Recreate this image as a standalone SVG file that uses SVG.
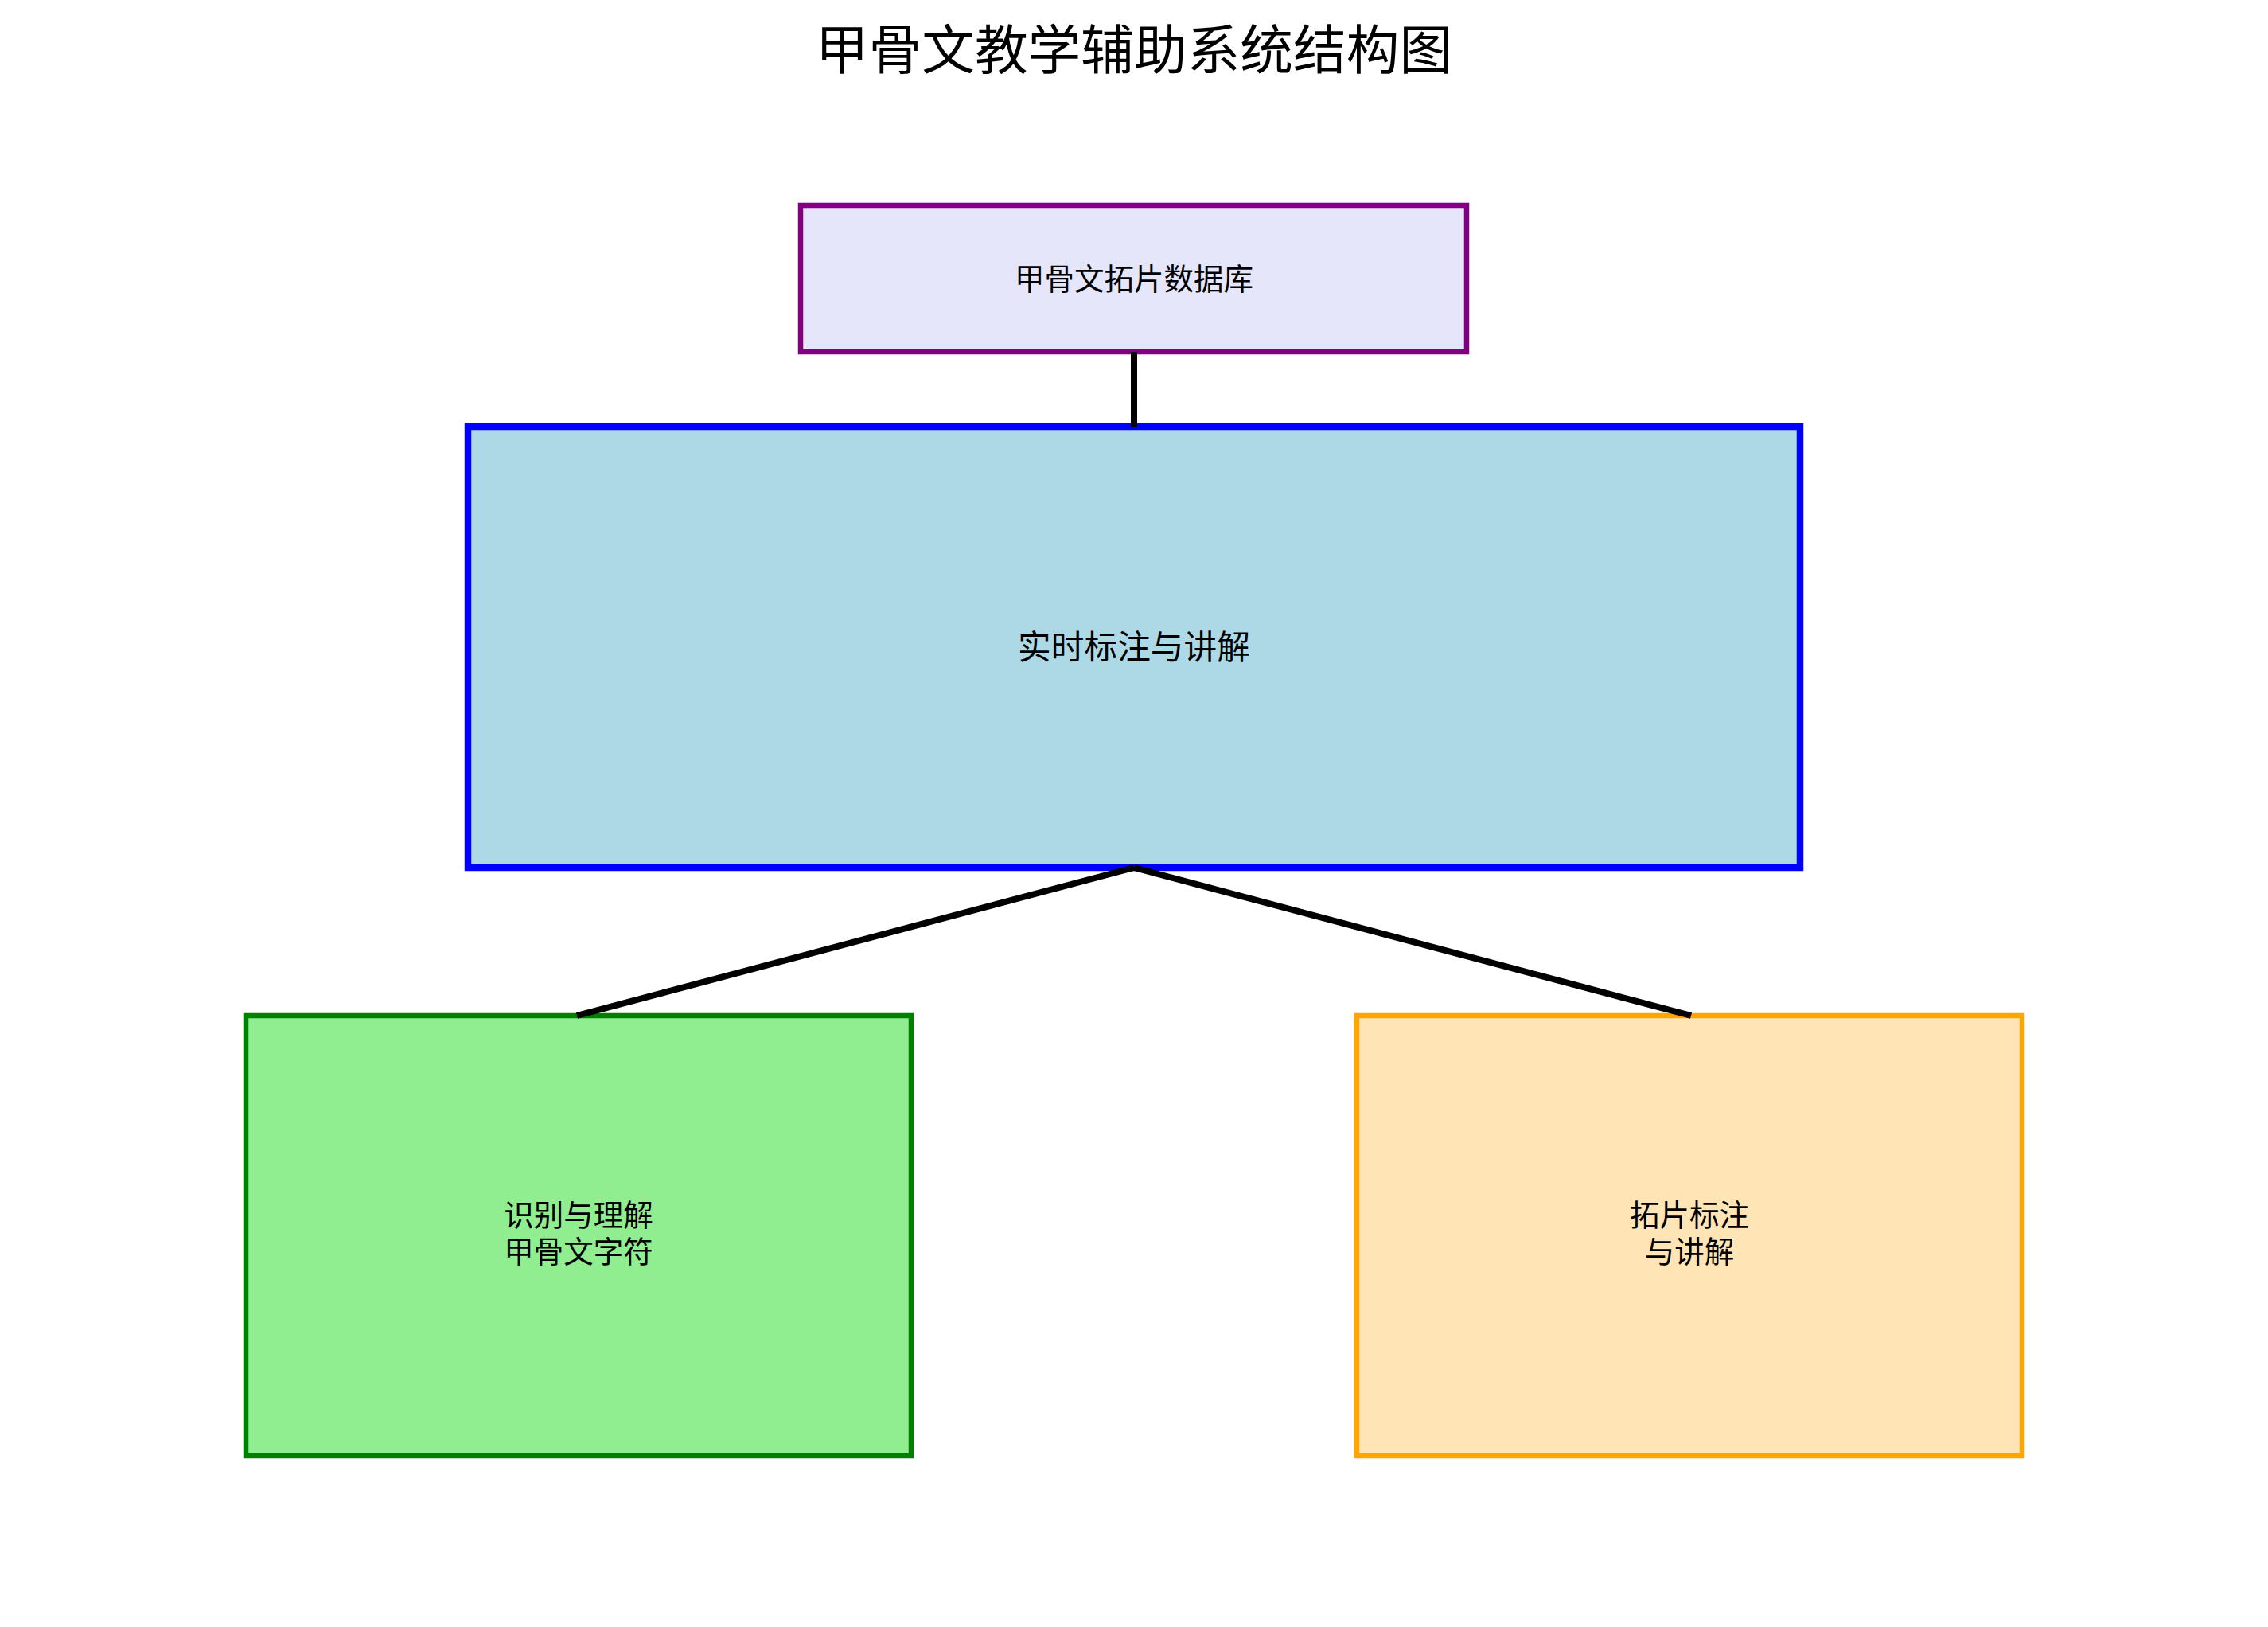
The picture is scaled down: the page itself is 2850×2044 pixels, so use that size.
<svg xmlns="http://www.w3.org/2000/svg" width="2850" height="2044" viewBox="0 0 2850 2044">
<style>
text { font-family: "Noto Sans CJK SC", "Noto Sans", sans-serif; fill: #000; text-anchor: middle; }
.title { font-size: 66.7px; }
.lbl { font-size: 37.5px; }
.lbl-big { font-size: 41.7px; }
.conn { stroke: #000; stroke-width: 8; fill: none; }
</style>
<rect x="0" y="0" width="2850" height="2044" fill="#ffffff"/>
<text class="title" x="1425" y="87">甲骨文教学辅助系统结构图</text>
<g id="node-database">
<rect x="1006" y="258" width="837" height="184" fill="#E6E6FA" stroke="#800080" stroke-width="6.5"/>
<text class="lbl" x="1425" y="364">甲骨文拓片数据库</text>
</g>
<g id="node-realtime">
<rect x="588" y="536" width="1674" height="554" fill="#ADD8E6" stroke="#0000FF" stroke-width="8.5"/>
<text class="lbl-big" x="1425" y="828">实时标注与讲解</text>
</g>
<g id="node-recognize">
<rect x="309" y="1276" width="836" height="553" fill="#90EE90" stroke="#008000" stroke-width="6.5"/>
<text class="lbl" x="727" y="1540">识别与理解</text>
<text class="lbl" x="727" y="1586">甲骨文字符</text>
</g>
<g id="node-annotate">
<rect x="1705" y="1276" width="836" height="553" fill="#FFE4B5" stroke="#FFA500" stroke-width="6.5"/>
<text class="lbl" x="2123" y="1540">拓片标注</text>
<text class="lbl" x="2123" y="1586">与讲解</text>
</g>
<g id="connectors">
<line class="conn" x1="1425" y1="442" x2="1425" y2="536"/>
<line class="conn" x1="1425" y1="1090" x2="725" y2="1276"/>
<line class="conn" x1="1425" y1="1090" x2="2125" y2="1276"/>
</g>
</svg>
